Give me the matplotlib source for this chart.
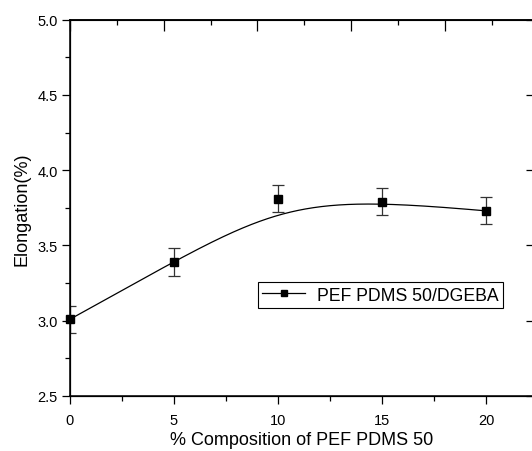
import numpy as np
import matplotlib
matplotlib.use("Agg")
import matplotlib.pyplot as plt
from matplotlib.lines import Line2D
from matplotlib.ticker import MultipleLocator, NullFormatter

plt.rcParams['font.family'] = ['Liberation Sans', 'DejaVu Sans']

composition = [0, 5, 10, 15, 20]
elongation = [3.01, 3.39, 3.81, 3.79, 3.73]
elong_err = [0.09, 0.09, 0.09, 0.09, 0.09]
series_label = "PEF PDMS 50/DGEBA"


def bspline_curve(xs, ys, degree=3, n=400):
    """Clamped uniform B-spline using the data points as control points."""
    P = np.column_stack([xs, ys]).astype(float)
    m = len(P)
    inner = np.linspace(0, 1, m - degree + 1)
    knots = np.concatenate([[0] * degree, inner, [1] * degree])
    t = np.linspace(0, 1, n)

    def basis(i, k, t):
        if k == 0:
            b = ((knots[i] <= t) & (t < knots[i + 1])).astype(float)
            if knots[i + 1] == 1.0 and knots[i] < 1.0:
                b[t == 1.0] = 1.0
            return b
        a = np.zeros_like(t)
        d1 = knots[i + k] - knots[i]
        if d1 > 0:
            a += (t - knots[i]) / d1 * basis(i, k - 1, t)
        d2 = knots[i + k + 1] - knots[i + 1]
        if d2 > 0:
            a += (knots[i + k + 1] - t) / d2 * basis(i + 1, k - 1, t)
        return a

    B = np.array([basis(i, degree, t) for i in range(m)])
    curve = B.T @ P
    return curve[:, 0], curve[:, 1]


fig = plt.figure(figsize=(5.32, 4.52), dpi=100)
ax = fig.add_axes([70 / 532, 1 - 397 / 452, 463 / 532, 376.3 / 452])

cx, cy = bspline_curve(composition, elongation)
ax.plot(cx, cy, color='black', lw=0.9, zorder=2)
ax.errorbar(composition, elongation, yerr=elong_err, fmt='none',
            ecolor='#333333', elinewidth=0.9, capsize=4, capthick=0.9, zorder=3)
ax.plot(composition, elongation, 's', color='black', ms=5.6, zorder=4,
        clip_on=False)

ax.set_xlim(0, 463 / 20.8)
ax.set_ylim(2.5, 5.0)
ax.xaxis.set_major_locator(MultipleLocator(5))
ax.xaxis.set_minor_locator(MultipleLocator(2.5))
ax.yaxis.set_major_locator(MultipleLocator(0.5))
ax.yaxis.set_minor_locator(MultipleLocator(0.25))
ax.yaxis.set_major_formatter(plt.FuncFormatter(lambda v, p: f"{v:.1f}"))

ax.tick_params(axis='both', which='major', direction='out', length=6,
               width=0.9, labelsize=10.5, colors='black')
ax.tick_params(axis='both', which='minor', direction='out', length=3.5,
               width=0.9)
ax.tick_params(axis='x', which='major', pad=6)
ax.tick_params(axis='y', which='major', pad=3)
ax.tick_params(axis='y', which='both', right=False)

for side in ['left', 'bottom', 'top', 'right']:
    ax.spines[side].set_linewidth(1.1)
ax.spines['right'].set_visible(False)

# secondary top axis: inward ticks on its own scale, no labels
top = ax.twiny()
top.set_xlim(0, 463 / 18.74)
top.xaxis.set_major_locator(MultipleLocator(5))
top.xaxis.set_minor_locator(MultipleLocator(2.5))
top.xaxis.set_major_formatter(NullFormatter())
top.tick_params(axis='x', which='major', direction='in', length=8, width=0.9)
top.tick_params(axis='x', which='minor', direction='in', length=3.5, width=0.9)
top.spines['right'].set_visible(False)
top.spines['top'].set_linewidth(1.1)

# right-hand inward ticks at the major levels
right = ax.twinx()
right.set_ylim(2.5, 5.0)
right.yaxis.set_major_locator(MultipleLocator(0.5))
right.yaxis.set_minor_locator(MultipleLocator(0.25))
right.tick_params(axis='y', which='major', direction='in', length=5,
                  width=0.9, labelright=False)
right.tick_params(axis='y', which='minor', length=0)
right.spines['right'].set_visible(False)

ax.set_xlabel("% Composition of PEF PDMS 50", fontsize=13, labelpad=3)
ax.set_ylabel("Elongation(%)", fontsize=13, labelpad=5)

handle = Line2D([], [], color='black', lw=0.9, marker='s', ms=5)
leg = ax.legend([handle], [series_label], loc='lower left',
                bbox_to_anchor=((258 - 70) / 463, (397 - 309) / 376.3),
                borderaxespad=0, fancybox=False, frameon=True,
                edgecolor='black', fontsize=12.7, handlelength=2.4,
                handletextpad=0.7, borderpad=0.25, framealpha=1)
leg.get_frame().set_linewidth(0.8)

fig.savefig("out.png", dpi=100, facecolor='white')
